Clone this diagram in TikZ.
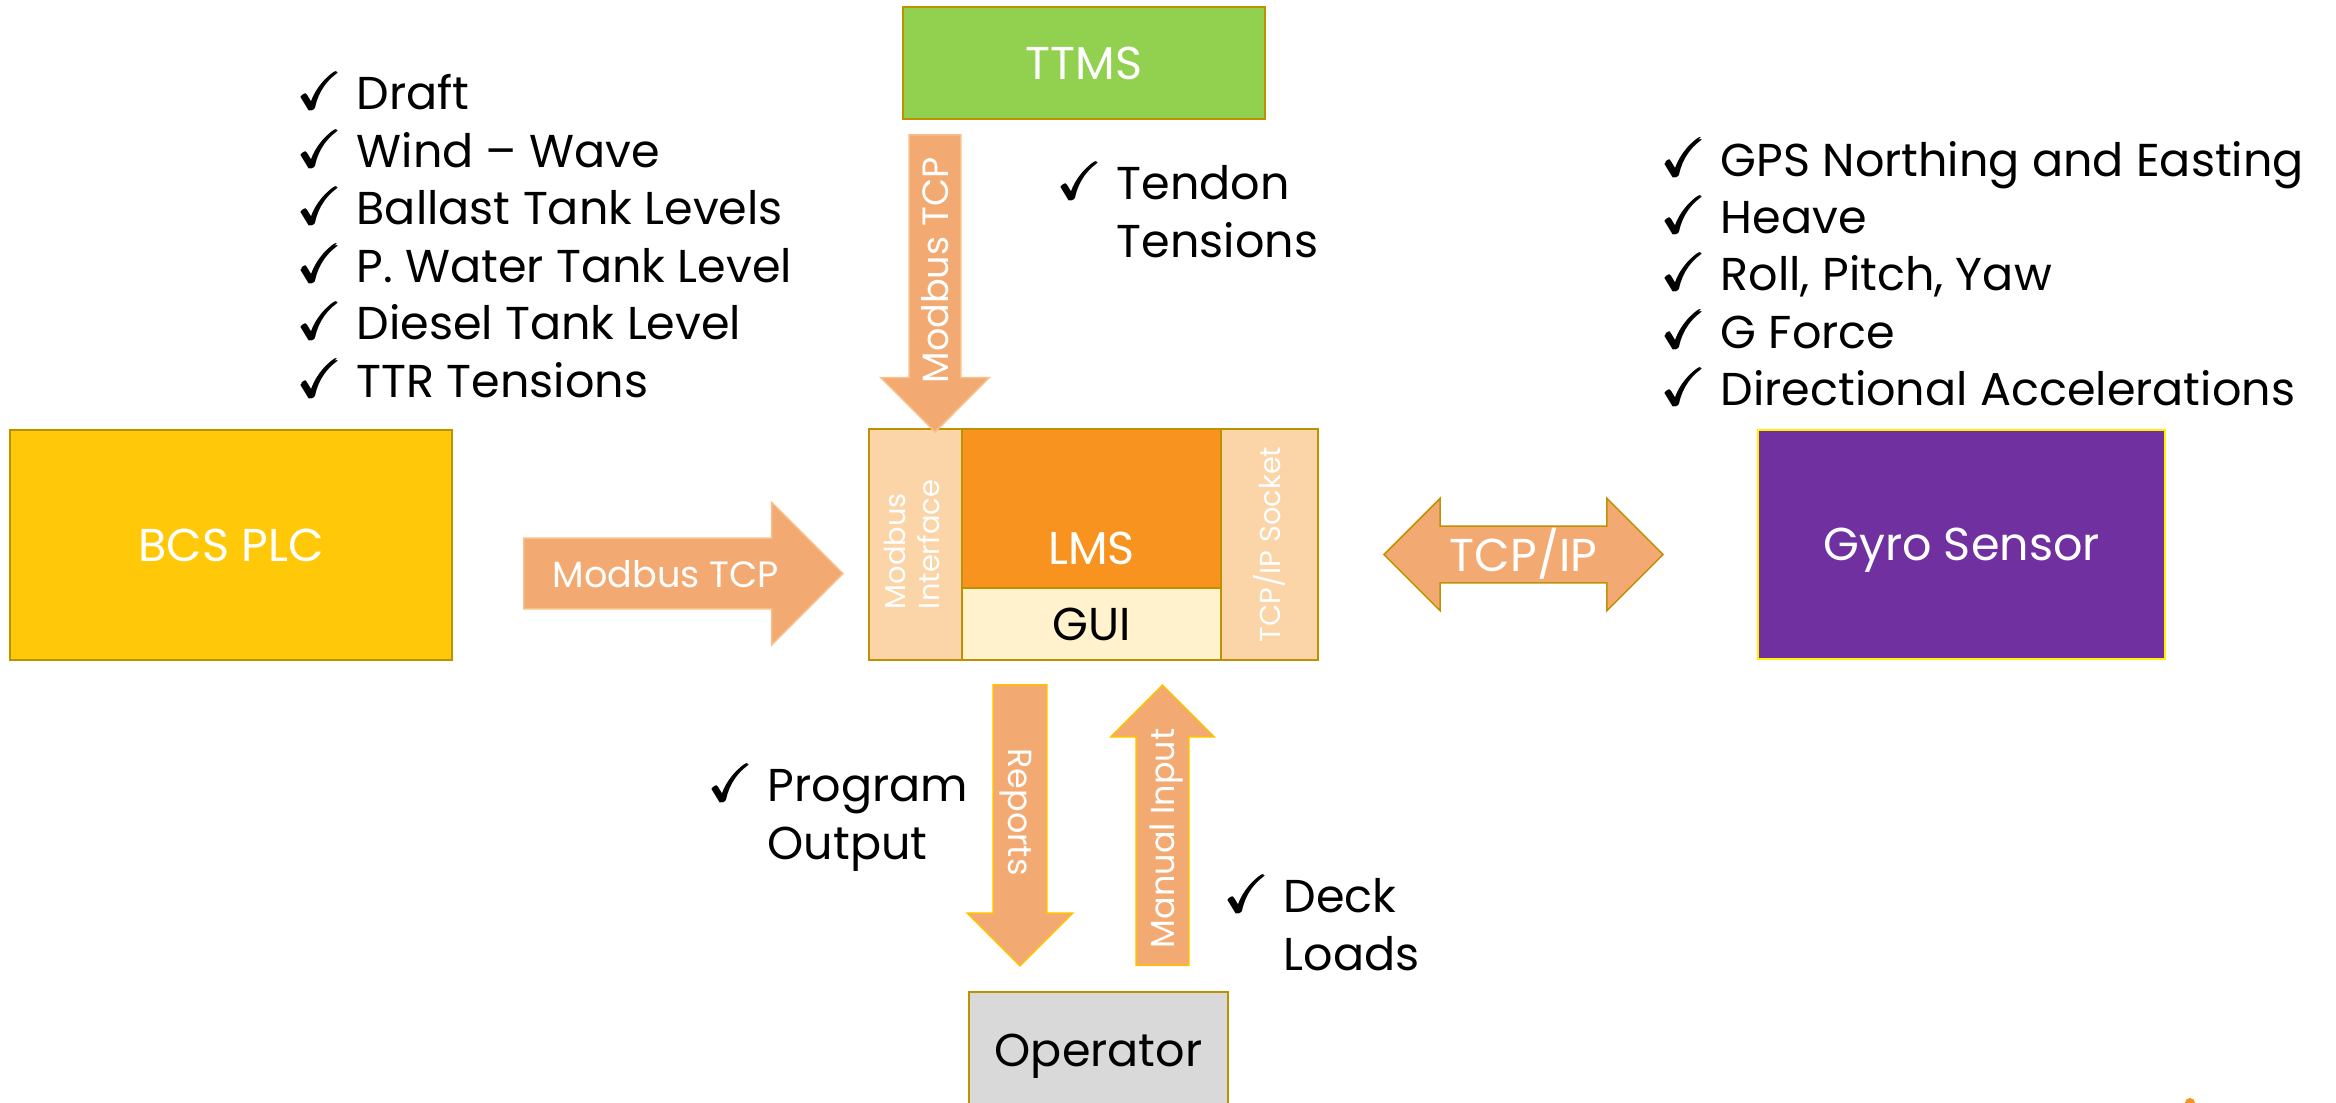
\documentclass[tikz,border=0pt]{standalone}
\usepackage{amsmath,amssymb}
\usepackage{fontspec}
\setmainfont{Poppins}
\usepackage{graphicx}
\usetikzlibrary{shapes.arrows}

\definecolor{goldline}{HTML}{BF9000}
\definecolor{bcsyellow}{HTML}{FFC90A}
\definecolor{ttmsgreen}{HTML}{92D050}
\definecolor{gyropurple}{HTML}{7030A0}
\definecolor{lmsorange}{HTML}{F7931E}
\definecolor{peach}{HTML}{FBD5A8}
\definecolor{guicream}{HTML}{FFF2CC}
\definecolor{flowfill}{HTML}{F3AA72}
\definecolor{flowline}{HTML}{F8C08A}
\definecolor{ambline}{HTML}{FFC000}
\definecolor{opgrey}{HTML}{D9D9D9}

\newcommand{\mainsz}{\fontsize{13.1}{16.3}\selectfont}
\newcommand{\flowsz}{\fontsize{10.4}{12}\selectfont}
\newcommand{\repsz}{\fontsize{9.5}{11}\selectfont}
\newcommand{\cellsz}{\fontsize{8.2}{9.7}\selectfont}
\newcommand{\chk}{\makebox[0.58cm][l]{\scalebox{1.15}{$\pmb{\checkmark}$}}}
\newcommand{\ind}{\hspace*{0.58cm}}

\begin{document}
\begin{tikzpicture}[x=0.01cm,y=-0.01cm,
	box/.style={draw=goldline,line width=0.02cm,inner sep=0pt,text=white,font=\mainsz,text height=9.2pt,text depth=0pt},
	cell/.style={draw=goldline,line width=0.02cm,inner sep=0pt},
	item/.style={inner sep=0pt,align=left,font=\mainsz,anchor=base west},
	flow/.style={single arrow,single arrow tip angle=90,fill=flowfill,draw=flowline,line width=0.015cm,text=white,inner xsep=0pt,text depth=0pt,anchor=tail}]
	\useasboundingbox (0,0) rectangle (2336,1103);

	\node[box,fill=bcsyellow,minimum width=4.42cm,minimum height=2.30cm] (bcs) at (231,545) {BCS PLC};
	\node[box,fill=ttmsgreen,minimum width=3.62cm,minimum height=1.12cm] (ttms) at (1084,63) {TTMS};
	\node[box,fill=gyropurple,draw=yellow,minimum width=4.07cm,minimum height=2.29cm] (gyro) at (1961.5,544.5) {Gyro Sensor};
	\node[box,fill=opgrey,text=black,minimum width=2.59cm,minimum height=1.16cm] (operator) at (1098.5,1050) {Operator};

	\node[cell,fill=peach,text=white,font=\cellsz,minimum width=0.93cm,minimum height=2.31cm] (mbif) at (915.5,544.5) {\rotatebox{90}{\begin{tabular}{@{}l@{}}Modbus\\Interface\end{tabular}}};
	\node[cell,fill=lmsorange,minimum width=2.59cm,minimum height=1.59cm] (lms) at (1091.5,508.5) {};
	\node[inner sep=0pt,text=white,font=\mainsz,anchor=base] (lmstext) at ([yshift=0.25cm]lms.south) {LMS};
	\node[cell,fill=guicream,font=\mainsz,text height=9.2pt,text depth=0pt,minimum width=2.59cm,minimum height=0.72cm] (gui) at (1091.5,624) {GUI};
	\node[cell,fill=peach,text=white,font=\cellsz,minimum width=0.97cm,minimum height=2.31cm] (sock) at (1269.5,544.5) {\rotatebox{90}{TCP/IP Socket}};

	\node[flow,font=\flowsz,text height=0.27cm,inner ysep=0.21cm,single arrow head extend=0.36cm,minimum height=3.19cm] (mbin) at (523,573.5) {Modbus TCP};
	\node[flow,font=\flowsz,rotate=-90,text height=0pt,text depth=0.27cm,inner ysep=0.115cm,single arrow head extend=0.285cm,minimum height=2.97cm] (mbdown) at (935,134) {\rotatebox{180}{Modbus TCP}};
	\node[flow,draw=ambline,font=\repsz,rotate=-90,text height=0.24cm,inner ysep=0.14cm,single arrow head extend=0.26cm,minimum height=2.81cm] (reports) at (1020,684) {Reports};
	\node[flow,draw=ambline,font=\repsz,rotate=90,text height=0.24cm,inner ysep=0.135cm,single arrow head extend=0.255cm,minimum height=2.80cm] (manual) at (1162.5,966) {Manual Input};
	\node[double arrow,double arrow tip angle=90,double arrow head extend=0.28cm,minimum height=2.79cm,fill=flowfill,draw=goldline,line width=0.015cm,text=white,font=\mainsz,inner xsep=0pt,text height=0.33cm,text depth=0pt,inner ysep=0.11cm] (tcpip) at (1523.5,554.5) {TCP/IP};

	\foreach \txt [count=\i] in {Draft,Wind – Wave,Ballast Tank Levels,P. Water Tank Level,Diesel Tank Level,TTR Tensions}
		\node[item] (bcsitem\i) at (298,{110+57.4*(\i-1)}) {\chk\txt};
	\foreach \txt [count=\i] in {GPS Northing and Easting,Heave,{Roll, Pitch, Yaw},G Force,Directional Accelerations}
		\node[item] (gyroitem\i) at (1662,{176+57.4*(\i-1)}) {\chk\txt};
	\node[item] (tendon) at (1058,257) {\chk Tendon\\\ind Tensions};
	\node[item] (progout) at (709,859) {\chk Program\\\ind Output};
	\node[item] (deck) at (1225,970) {\chk Deck\\\ind Loads};

	\fill[lmsorange] (2190,1103) circle[radius=0.05cm];
\end{tikzpicture}
\end{document}
